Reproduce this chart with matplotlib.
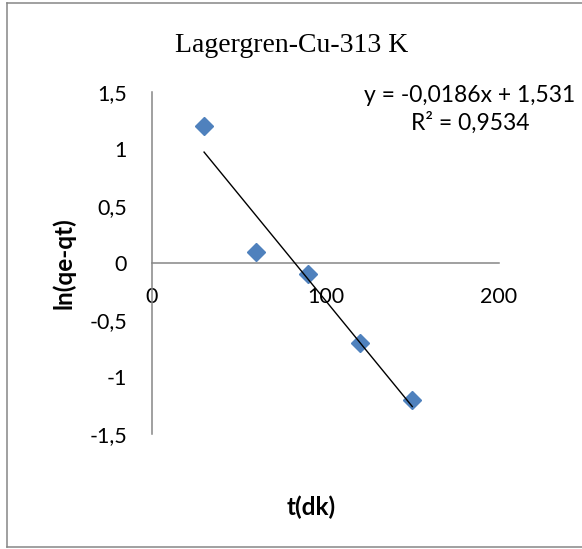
import numpy as np
import matplotlib
matplotlib.use("Agg")
import matplotlib.pyplot as plt
from matplotlib.lines import Line2D

# data
t_dk = [30, 60, 90, 120, 150]
ln_qe_qt = [1.2, 0.1, -0.1, -0.7, -1.2]

# Excel trendline as printed on the chart
slope = -0.0186
intercept = 1.531
r_squared = 0.9534

x_ticks = [0, 100, 200]
y_ticks = [-1.5, -1, -0.5, 0, 0.5, 1, 1.5]


def comma(v):
    """Turkish style decimal comma."""
    s = f"{v:g}"
    return s.replace(".", ",")


fig = plt.figure(figsize=(5.82, 5.49), dpi=100)
ax = fig.add_axes([0.2612, 0.2095, 0.5962, 0.6229])

sans = ["Lato", "DejaVu Sans"]
grey = "#868686"

ax.plot(t_dk, ln_qe_qt, linestyle="none", marker="D", markersize=9.5,
        color="#4F81BD", markeredgecolor="#4F81BD", zorder=3)

x_fit = np.array([min(t_dk), max(t_dk)])
ax.plot(x_fit, slope * x_fit + intercept, color="black", linewidth=1.0, zorder=4)

ax.set_xlim(0, 200)
ax.set_ylim(-1.5, 1.5)
ax.spines["left"].set_position(("data", 0))
ax.spines["bottom"].set_position(("data", 0))
ax.spines["top"].set_visible(False)
ax.spines["right"].set_visible(False)
for side in ("left", "bottom"):
    ax.spines[side].set_color(grey)
    ax.spines[side].set_linewidth(1.1)

ax.set_xticks(x_ticks)
ax.set_xticklabels([comma(v) for v in x_ticks], fontfamily=sans, fontsize=15.5)
ax.set_yticks(y_ticks)
ax.set_yticklabels([comma(v) for v in y_ticks], fontfamily=sans, fontsize=15.5)
ax.tick_params(axis="x", length=0, pad=17)
ax.tick_params(axis="y", length=0, pad=18)

fig.text(311 / 582, 1 - 507 / 549, "t(dk)", ha="center", va="center",
         fontfamily=sans, fontsize=17.5, fontweight="bold")
fig.text(64 / 582, 1 - 263 / 549, "ln(qe-qt)", ha="center", va="center",
         rotation=90, fontfamily=sans, fontsize=17.5, fontweight="bold")
fig.text(292 / 582, 1 - 45 / 549, "Lagergren-Cu-313 K", ha="center", va="center",
         fontfamily="Liberation Serif", fontsize=20)

fig.text(470 / 582, 1 - 95 / 549, f"y = {comma(slope)}x + {comma(intercept)}",
         ha="center", va="center", fontfamily=sans, fontsize=16.5)
fig.text(470 / 582, 1 - 123 / 549, f"R² = {comma(r_squared)}",
         ha="center", va="center", fontfamily=sans, fontsize=16.5)

# chart area border (open on the right, like the cropped original)
bx0, bx1 = 7 / 582, 1.01
by0, by1 = 1 - 547 / 549, 1 - 3 / 549
for xs, ys in (([bx0, bx1], [by1, by1]), ([bx0, bx1], [by0, by0]), ([bx0, bx0], [by0, by1])):
    fig.add_artist(Line2D(xs, ys, color=grey, linewidth=1.1, transform=fig.transFigure))

fig.savefig("out.png", dpi=100)
